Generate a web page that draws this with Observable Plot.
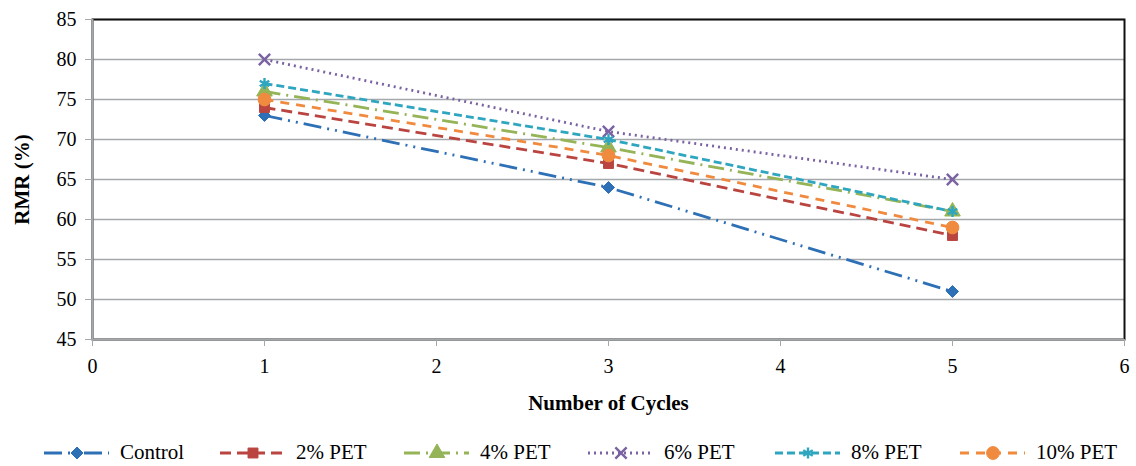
<!DOCTYPE html>
<html>
<head>
<meta charset="utf-8">
<script src="https://cdn.jsdelivr.net/npm/d3@7"></script>
<script src="https://cdn.jsdelivr.net/npm/@observablehq/plot@0.6"></script>
<style>
  html, body { margin: 0; padding: 0; background: #fff; }
  body { width: 1136px; height: 466px; overflow: hidden; font-family: 'Liberation Serif'; }
  #legend { height: 38px; position: relative; }
  .item { position: absolute; display: flex; align-items: center; font-size: 21px; color: #000; white-space: nowrap; font-family: 'Liberation Serif'; }
  .item svg { display: block; margin-right: 11px; }
</style>
</head>
<body>
<div id="chart"></div>
<div id="legend"></div>
<script>
const cycles = [1, 3, 5];
const seriesNames = ["Control", "2% PET", "4% PET", "6% PET", "8% PET", "10% PET"];
const controlValues = [73, 64, 51];
const pet2Values = [74, 67, 58];
const pet4Values = [76, 69, 61];
const pet6Values = [80, 71, 65];
const pet8Values = [77, 70, 61];
const pet10Values = [75, 68, 59];
const xTicks = [0, 1, 2, 3, 4, 5, 6];
const yTicks = [45, 50, 55, 60, 65, 70, 75, 80, 85];

const seriesValues = [controlValues, pet2Values, pet4Values, pet6Values, pet8Values, pet10Values];
const colors = ["#2E70B6", "#BA4540", "#94B457", "#7A62A3", "#2FA6C0", "#F08A3E"];
const dashes = ["18,6,2,6,2,6", "11,6", "16,6,2,6", "2,4", "8,4", "9,7"];
const symbols = ["diamond2", "square", "triangle", "times", "asterisk", "circle"];
const radii = [5.4, 5.6, 5.8, 5.2, 5.2, 6.4];
const filled = [true, true, true, false, false, true];
const legendX = [44, 220, 404, 588, 775, 960];

const FONT = "'Liberation Serif'";

const marks = [
  Plot.ruleY(yTicks.slice(1), {stroke: "#a4a8ab", strokeWidth: 1.6}),
  Plot.frame({stroke: "#111", strokeWidth: 2}),
  Plot.ruleY([45], {stroke: "#a4a8ab", strokeWidth: 2}),
  Plot.ruleX([0], {stroke: "#a4a8ab", strokeWidth: 2}),
  Plot.axisX({ticks: xTicks, tickFormat: "d", tickSize: 7, tickPadding: 12, stroke: "#a4a8ab", fill: "#000", fontSize: 20,
    label: "Number of Cycles", labelArrow: "none", labelAnchor: "center", labelOffset: 70}),
  Plot.axisY({ticks: yTicks, tickFormat: "d", tickSize: 7, tickPadding: 9, stroke: "#a4a8ab", fill: "#000", fontSize: 20,
    label: "RMR (%)", labelArrow: "none", labelAnchor: "center", labelOffset: 78})
];

seriesNames.forEach((name, i) => {
  const data = cycles.map((c, j) => ({cycle: c, value: seriesValues[i][j], series: name}));
  marks.push(Plot.line(data, {x: "cycle", y: "value", stroke: colors[i], strokeWidth: 2.8,
    strokeDasharray: dashes[i], strokeLinecap: "butt"}));
});
seriesNames.forEach((name, i) => {
  const data = cycles.map((c, j) => ({cycle: c, value: seriesValues[i][j], series: name}));
  marks.push(Plot.dot(data, {x: "cycle", y: "value", symbol: () => symbols[i], r: radii[i],
    fill: filled[i] ? colors[i] : "none", stroke: colors[i], strokeWidth: filled[i] ? 1 : 2.4}));
});

const chart = Plot.plot({
  width: 1136,
  height: 428,
  marginLeft: 92,
  marginRight: 12,
  marginTop: 19,
  marginBottom: 89,
  style: {fontFamily: FONT, fontSize: "20px", color: "#000", background: "#fff"},
  x: {domain: [0, 6]},
  y: {domain: [45, 85]},
  symbol: {type: "identity"},
  marks
});
document.getElementById("chart").appendChild(chart);
chart.style.fontFamily = FONT;

// force serif font on all texts; bold axis titles; strip any arrows
d3.select(chart).selectAll("g, text").style("font-family", FONT);
d3.select(chart).selectAll("[aria-label='x-axis label'] text, [aria-label='y-axis label'] text")
  .style("font-weight", "bold").style("font-size", "21px")
  .each(function() { this.textContent = this.textContent.replace(/[\u2190-\u2193]/g, "").trim(); });

// legend
const legend = d3.select("#legend");
const symMap = {diamond2: d3.symbolDiamond2, square: d3.symbolSquare, triangle: d3.symbolTriangle,
  times: d3.symbolTimes, asterisk: d3.symbolAsterisk, circle: d3.symbolCircle};
seriesNames.forEach((name, i) => {
  const item = legend.append("div").attr("class", "item").style("left", legendX[i] + "px").style("top", "12px");
  const svg = item.append("svg").attr("width", 65).attr("height", 20);
  svg.append("line").attr("x1", 0).attr("x2", 65).attr("y1", 10).attr("y2", 10)
    .attr("stroke", colors[i]).attr("stroke-width", 2.8).attr("stroke-dasharray", dashes[i]);
  svg.append("path").attr("transform", "translate(33,10)")
    .attr("d", d3.symbol(symMap[symbols[i]], Math.PI * radii[i] * radii[i])())
    .attr("fill", filled[i] ? colors[i] : "none").attr("stroke", colors[i])
    .attr("stroke-width", filled[i] ? 1 : 2.4);
  item.append("span").style("font-family", FONT).text(name);
});
</script>
</body>
</html>
